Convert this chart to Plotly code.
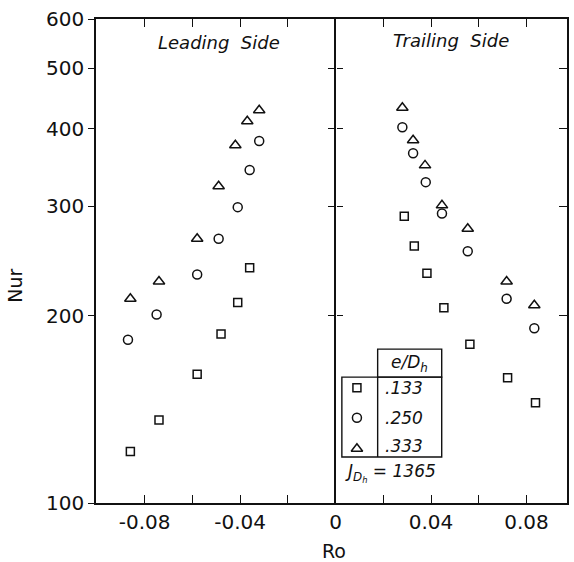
import plotly.graph_objects as go
import math

# ---------------- data ----------------
ro_sq = [-0.086, -0.074, -0.058, -0.048, -0.041, -0.036,
         0.0288, 0.033, 0.0383, 0.0454, 0.0563, 0.0721, 0.0838]
nu_sq = [121, 136, 161, 187, 210, 239,
         289, 259, 234, 206, 180, 159, 145]

ro_ci = [-0.087, -0.075, -0.058, -0.049, -0.041, -0.036, -0.032,
         0.028, 0.0325, 0.0378, 0.0446, 0.0554, 0.0717, 0.0833]
nu_ci = [183, 201, 233, 266, 299, 343, 382,
         402, 365, 328, 292, 254, 213, 191]

ro_tr = [-0.086, -0.074, -0.058, -0.049, -0.042, -0.037, -0.032,
         0.028, 0.0325, 0.0375, 0.0446, 0.0554, 0.0717, 0.0833]
nu_tr = [213, 227, 266, 323, 376, 411, 428,
         432, 383, 349, 301, 276, 227, 208]

legend_labels = [".133", ".250", ".333"]
x_tickvals = [-0.08, -0.06, -0.04, -0.02, 0, 0.02, 0.04, 0.06, 0.08]
x_ticktext = ["-0.08", "", "-0.04", "", "0", "", "0.04", "", "0.08"]
y_tickvals = [100, 200, 300, 400, 500, 600]
y_ticktext = ["100", "200", "300", "400", "500", "600"]
mid_tickvals = [200, 300, 400, 500]

XMIN, XMAX = -0.1004, 0.097
YMIN, YMAX = 100, 600

FONT = "DejaVu Sans"
BLACK = "#111111"

fig = go.Figure()

mk = dict(color=BLACK, line=dict(color=BLACK, width=1.5))
fig.add_trace(go.Scatter(x=ro_sq, y=nu_sq, mode="markers",
                         marker=dict(symbol="square-open", size=8, **mk)))
fig.add_trace(go.Scatter(x=ro_ci, y=nu_ci, mode="markers",
                         marker=dict(symbol="circle-open", size=9, **mk)))
fig.add_trace(go.Scatter(x=ro_tr, y=nu_tr, mode="markers",
                         marker=dict(symbol="triangle-up-open", size=10, **mk)))

# dummy traces to activate overlay axes
for xa, ya in [("x", "y3"), ("x3", "y4"), ("x4", "y5")]:
    fig.add_trace(go.Scatter(x=[None], y=[None], xaxis=xa, yaxis=ya,
                             mode="markers", hoverinfo="skip"))

# legend-table sample markers on a unit overlay axis
leg_x = [0.554, 0.554, 0.554]
leg_y = [0.238, 0.176, 0.112]
for sym, sz, lx, ly in zip(["square-open", "circle-open", "triangle-up-open"],
                           [8, 9, 10], leg_x, leg_y):
    fig.add_trace(go.Scatter(x=[lx], y=[ly], xaxis="x2", yaxis="y2",
                             mode="markers",
                             marker=dict(symbol=sym, size=sz, **mk)))

x0pos = (0 - XMIN) / (XMAX - XMIN)

yrange = [math.log10(YMIN), math.log10(YMAX)]
common_mid = dict(type="log", range=yrange, domain=[0, 1],
                  tickvals=mid_tickvals, showticklabels=False,
                  ticks="outside", ticklen=6, tickwidth=1.4, tickcolor=BLACK,
                  linecolor=BLACK, linewidth=1.5,
                  showgrid=False, zeroline=False)

fig.update_layout(
    width=574, height=562,
    margin=dict(l=96, r=5, t=19, b=59),
    paper_bgcolor="white", plot_bgcolor="rgba(0,0,0,0)",
    showlegend=False,
    font=dict(family=FONT, color=BLACK, size=19),
    xaxis=dict(range=[XMIN, XMAX], tickvals=x_tickvals, ticktext=x_ticktext,
               ticks="inside", ticklen=8, tickwidth=1.3, tickcolor=BLACK,
               showline=True, linecolor=BLACK, linewidth=1.5, mirror="ticks",
               showgrid=False, zeroline=False,
               tickfont=dict(size=20, family=FONT)),
    yaxis=dict(type="log", range=yrange,
               tickvals=y_tickvals, ticktext=y_ticktext,
               ticks="outside", ticklen=6, tickwidth=1.3, tickcolor=BLACK,
               showline=True, linecolor=BLACK, linewidth=1.5, mirror=True,
               showgrid=False, zeroline=False,
               tickfont=dict(size=20, family=FONT)),
    yaxis3=dict(type="log", overlaying="y", side="right", anchor="x",
                range=yrange,
                tickvals=mid_tickvals, showticklabels=False,
                ticks="inside", ticklen=8, tickwidth=1.3, tickcolor=BLACK,
                showline=False, showgrid=False, zeroline=False),
    # middle divider at Ro = 0 with ticks crossing on both sides
    xaxis3=dict(domain=[x0pos, 1], range=[0, 1], visible=False, anchor="y4"),
    xaxis4=dict(domain=[0, x0pos], range=[0, 1], visible=False, anchor="y5"),
    yaxis4=dict(side="left", anchor="x3", showline=True, **common_mid),
    yaxis5=dict(side="right", anchor="x4", showline=False, **common_mid),
    xaxis2=dict(domain=[0, 1], range=[0, 1], visible=False, overlaying="x",
                anchor="y2"),
    yaxis2=dict(domain=[0, 1], range=[0, 1], visible=False, overlaying="y",
                anchor="x2"),
)

# legend table lines (paper coords)
L, D, R = 0.522, 0.598, 0.734
TOP_H, TOP_B, BOT = 0.318, 0.260, 0.095
line = dict(color=BLACK, width=1.4)
fig.add_shape(type="rect", xref="paper", yref="paper", x0=L, x1=R, y0=BOT, y1=TOP_B, line=line)
fig.add_shape(type="rect", xref="paper", yref="paper", x0=D, x1=R, y0=TOP_B, y1=TOP_H, line=line)
fig.add_shape(type="line", xref="paper", yref="paper", x0=D, x1=D, y0=BOT, y1=TOP_B, line=line)

ann_font = dict(family=FONT, size=17, color=BLACK)
for lab, ly in zip(legend_labels, [0.238, 0.176, 0.118]):
    fig.add_annotation(xref="paper", yref="paper", x=0.61, y=ly, xanchor="left",
                       yanchor="middle", text=f"<i>{lab}</i>", showarrow=False,
                       font=ann_font)
fig.add_annotation(xref="paper", yref="paper", x=0.666, y=0.289, xanchor="center",
                   yanchor="middle", text="<i>e/D<sub>h</sub></i>", showarrow=False,
                   font=ann_font)
fig.add_annotation(xref="paper", yref="paper", x=0.525, y=0.062, xanchor="left",
                   yanchor="middle", text="<i>J<sub>D<sub>h</sub></sub> = 1365</i>",
                   showarrow=False, font=ann_font)

fig.add_annotation(xref="paper", yref="paper", x=0.262, y=0.952,
                   xanchor="center", yanchor="middle",
                   text="<i>Leading  Side</i>", showarrow=False,
                   font=dict(family=FONT, size=18, color=BLACK))
fig.add_annotation(xref="paper", yref="paper", x=0.753, y=0.955,
                   xanchor="center", yanchor="middle",
                   text="<i>Trailing  Side</i>", showarrow=False,
                   font=dict(family=FONT, size=18, color=BLACK))

fig.add_annotation(xref="paper", yref="paper", x=0.505, y=-0.099,
                   xanchor="center", yanchor="middle",
                   text="Ro", showarrow=False,
                   font=dict(family=FONT, size=19, color=BLACK))
fig.add_annotation(xref="paper", yref="paper", x=-0.171, y=0.45,
                   xanchor="center", yanchor="middle",
                   text="Nur", textangle=-90, showarrow=False,
                   font=dict(family=FONT, size=19, color=BLACK))

fig.write_html("out.html")
